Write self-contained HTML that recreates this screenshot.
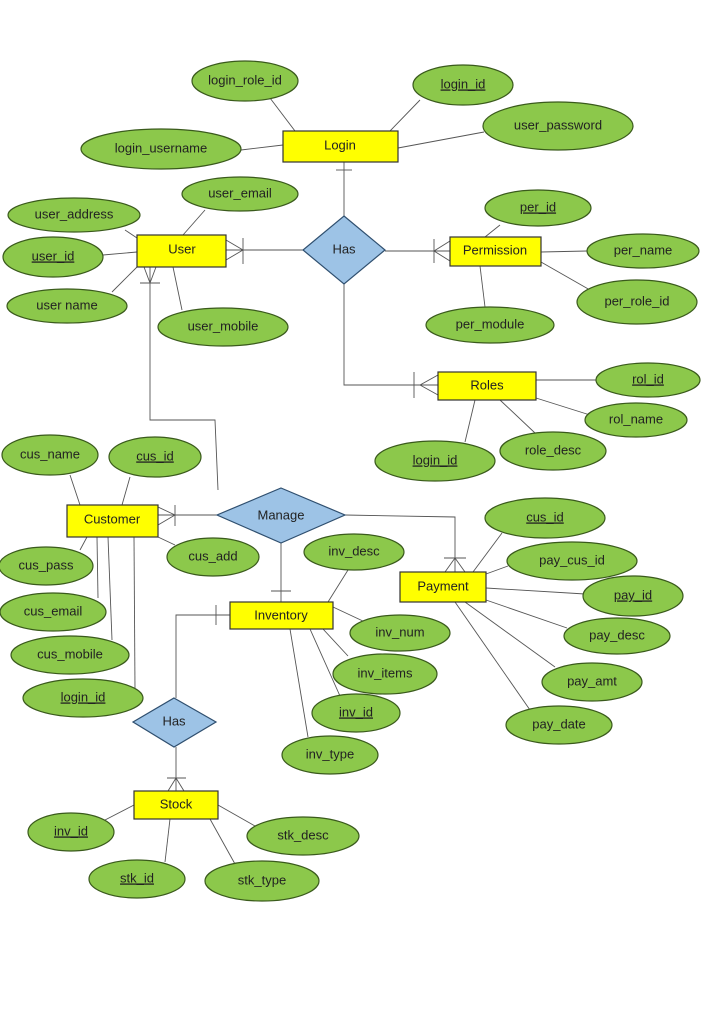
<!DOCTYPE html>
<html><head><meta charset="utf-8"><style>
html,body{margin:0;padding:0;background:#fff;}
svg{display:block;}
text{font-family:"Liberation Sans",sans-serif;font-size:13px;fill:#222;text-anchor:middle;dominant-baseline:middle;}
.e{fill:#8cc84b;stroke:#3a5a1c;stroke-width:1.2;}
.r{fill:#ffff00;stroke:#333;stroke-width:1.2;}
.d{fill:#9dc3e6;stroke:#2f4f6f;stroke-width:1.2;}
.l{stroke:#555;stroke-width:0.9;fill:none;}
</style></head><body>
<svg width="714" height="1024" viewBox="0 0 714 1024" xmlns="http://www.w3.org/2000/svg">
<!-- attribute lines -->
<g class="l">
<line x1="270" y1="98" x2="295" y2="131"/>
<line x1="420" y1="100" x2="390" y2="131"/>
<line x1="484" y1="132" x2="398" y2="148"/>
<line x1="241" y1="150" x2="283" y2="145"/>
<line x1="205" y1="210" x2="183" y2="235"/>
<line x1="125" y1="230" x2="137" y2="238"/>
<line x1="103" y1="255" x2="137" y2="252"/>
<line x1="112" y1="292" x2="137" y2="267"/>
<line x1="182" y1="310" x2="173" y2="267"/>
<line x1="500" y1="225" x2="485" y2="237"/>
<line x1="587" y1="251" x2="541" y2="252"/>
<line x1="590" y1="290" x2="541" y2="262"/>
<line x1="485" y1="307" x2="480" y2="266"/>
<line x1="596" y1="380" x2="536" y2="380"/>
<line x1="590" y1="415" x2="536" y2="398"/>
<line x1="535" y1="433" x2="500" y2="400"/>
<line x1="465" y1="442" x2="475" y2="400"/>
<line x1="70" y1="475" x2="80" y2="505"/>
<line x1="130" y1="477" x2="122" y2="505"/>
<line x1="175" y1="545" x2="158" y2="537"/>
<line x1="80" y1="550" x2="87" y2="537"/>
<line x1="98" y1="598" x2="97" y2="537"/>
<line x1="112" y1="640" x2="108" y2="537"/>
<line x1="135" y1="690" x2="134" y2="537"/>
<line x1="348" y1="570" x2="328" y2="602"/>
<line x1="365" y1="622" x2="333" y2="607"/>
<line x1="348" y1="656" x2="323" y2="629"/>
<line x1="340" y1="696" x2="310" y2="629"/>
<line x1="308" y1="737" x2="290" y2="629"/>
<line x1="502" y1="533" x2="473" y2="572"/>
<line x1="508" y1="566" x2="486" y2="574"/>
<line x1="585" y1="594" x2="486" y2="588"/>
<line x1="567" y1="628" x2="486" y2="600"/>
<line x1="555" y1="667" x2="465" y2="602"/>
<line x1="530" y1="710" x2="455" y2="602"/>
<line x1="105" y1="820" x2="134" y2="805"/>
<line x1="255" y1="826" x2="218" y2="805"/>
<line x1="165" y1="862" x2="170" y2="819"/>
<line x1="235" y1="864" x2="210" y2="819"/>
</g>
<!-- relationship lines -->
<g class="l">
<line x1="344" y1="162" x2="344" y2="216"/>
<line x1="336" y1="170" x2="352" y2="170"/>
<line x1="303" y1="250" x2="226" y2="250"/>
<line x1="243" y1="250" x2="226" y2="240"/><line x1="243" y1="250" x2="226" y2="260"/>
<line x1="243" y1="238" x2="243" y2="264"/>
<line x1="385" y1="251" x2="450" y2="251"/>
<line x1="434" y1="251" x2="450" y2="241"/><line x1="434" y1="251" x2="450" y2="261"/>
<line x1="434" y1="239" x2="434" y2="263"/>
<polyline points="344,284 344,385 438,385"/>
<line x1="420" y1="385" x2="438" y2="375"/><line x1="420" y1="385" x2="438" y2="395"/>
<line x1="414" y1="372" x2="414" y2="398"/>
<polyline points="150,267 150,420 215,420 218,490"/>
<line x1="150" y1="283" x2="144" y2="267"/><line x1="150" y1="283" x2="156" y2="267"/>
<line x1="140" y1="283" x2="160" y2="283"/>
<line x1="217" y1="515" x2="158" y2="515"/>
<line x1="175" y1="515" x2="158" y2="507"/><line x1="175" y1="515" x2="158" y2="525"/>
<line x1="175" y1="505" x2="175" y2="526"/>
<polyline points="345,515 455,517 455,572"/>
<line x1="455" y1="558" x2="445" y2="572"/><line x1="455" y1="558" x2="465" y2="572"/>
<line x1="444" y1="558" x2="466" y2="558"/>
<line x1="281" y1="543" x2="281" y2="602"/>
<line x1="271" y1="591" x2="291" y2="591"/>
<polyline points="230,615 176,615 176,698"/>
<line x1="216" y1="605" x2="216" y2="625"/>
<line x1="176" y1="747" x2="176" y2="791"/>
<line x1="176" y1="778" x2="168" y2="791"/><line x1="176" y1="778" x2="184" y2="791"/>
<line x1="167" y1="778" x2="186" y2="778"/>
</g>
<!-- diamonds -->
<polygon class="d" points="344,216 385,250 344,284 303,250"/><text x="344" y="250">Has</text>
<polygon class="d" points="281,488 345,515 281,543 217,515"/><text x="281" y="516">Manage</text>
<polygon class="d" points="174,698 216,722 174,747 133,722"/><text x="174" y="722">Has</text>
<!-- entities -->
<rect class="r" x="283" y="131" width="115" height="31"/><text x="340" y="146">Login</text>
<rect class="r" x="137" y="235" width="89" height="32"/><text x="182" y="250">User</text>
<rect class="r" x="450" y="237" width="91" height="29"/><text x="495" y="251">Permission</text>
<rect class="r" x="438" y="372" width="98" height="28"/><text x="487" y="386">Roles</text>
<rect class="r" x="67" y="505" width="91" height="32"/><text x="112" y="520">Customer</text>
<rect class="r" x="400" y="572" width="86" height="30"/><text x="443" y="587">Payment</text>
<rect class="r" x="230" y="602" width="103" height="27"/><text x="281" y="616">Inventory</text>
<rect class="r" x="134" y="791" width="84" height="28"/><text x="176" y="805">Stock</text>
<!-- attributes -->
<g>
<ellipse class="e" cx="245" cy="81" rx="53" ry="20"/><text x="245" y="81">login_role_id</text>
<ellipse class="e" cx="463" cy="85" rx="50" ry="20"/><text x="463" y="85" text-decoration="underline">login_id</text>
<ellipse class="e" cx="558" cy="126" rx="75" ry="24"/><text x="558" y="126">user_password</text>
<ellipse class="e" cx="161" cy="149" rx="80" ry="20"/><text x="161" y="149">login_username</text>
<ellipse class="e" cx="240" cy="194" rx="58" ry="17"/><text x="240" y="194">user_email</text>
<ellipse class="e" cx="74" cy="215" rx="66" ry="17"/><text x="74" y="215">user_address</text>
<ellipse class="e" cx="53" cy="257" rx="50" ry="20"/><text x="53" y="257" text-decoration="underline">user_id</text>
<ellipse class="e" cx="67" cy="306" rx="60" ry="17"/><text x="67" y="306">user  name</text>
<ellipse class="e" cx="223" cy="327" rx="65" ry="19"/><text x="223" y="327">user_mobile</text>
<ellipse class="e" cx="538" cy="208" rx="53" ry="18"/><text x="538" y="208" text-decoration="underline">per_id</text>
<ellipse class="e" cx="643" cy="251" rx="56" ry="17"/><text x="643" y="251">per_name</text>
<ellipse class="e" cx="637" cy="302" rx="60" ry="22"/><text x="637" y="302">per_role_id</text>
<ellipse class="e" cx="490" cy="325" rx="64" ry="18"/><text x="490" y="325">per_module</text>
<ellipse class="e" cx="648" cy="380" rx="52" ry="17"/><text x="648" y="380" text-decoration="underline">rol_id</text>
<ellipse class="e" cx="636" cy="420" rx="51" ry="17"/><text x="636" y="420">rol_name</text>
<ellipse class="e" cx="553" cy="451" rx="53" ry="19"/><text x="553" y="451">role_desc</text>
<ellipse class="e" cx="435" cy="461" rx="60" ry="20"/><text x="435" y="461" text-decoration="underline">login_id</text>
<ellipse class="e" cx="50" cy="455" rx="48" ry="20"/><text x="50" y="455">cus_name</text>
<ellipse class="e" cx="155" cy="457" rx="46" ry="20"/><text x="155" y="457" text-decoration="underline">cus_id</text>
<ellipse class="e" cx="213" cy="557" rx="46" ry="19"/><text x="213" y="557">cus_add</text>
<ellipse class="e" cx="46" cy="566" rx="47" ry="19"/><text x="46" y="566">cus_pass</text>
<ellipse class="e" cx="53" cy="612" rx="53" ry="19"/><text x="53" y="612">cus_email</text>
<ellipse class="e" cx="70" cy="655" rx="59" ry="19"/><text x="70" y="655">cus_mobile</text>
<ellipse class="e" cx="83" cy="698" rx="60" ry="19"/><text x="83" y="698" text-decoration="underline">login_id</text>
<ellipse class="e" cx="545" cy="518" rx="60" ry="20"/><text x="545" y="518" text-decoration="underline">cus_id</text>
<ellipse class="e" cx="572" cy="561" rx="65" ry="19"/><text x="572" y="561">pay_cus_id</text>
<ellipse class="e" cx="633" cy="596" rx="50" ry="20"/><text x="633" y="596" text-decoration="underline">pay_id</text>
<ellipse class="e" cx="617" cy="636" rx="53" ry="18"/><text x="617" y="636">pay_desc</text>
<ellipse class="e" cx="592" cy="682" rx="50" ry="19"/><text x="592" y="682">pay_amt</text>
<ellipse class="e" cx="559" cy="725" rx="53" ry="19"/><text x="559" y="725">pay_date</text>
<ellipse class="e" cx="354" cy="552" rx="50" ry="18"/><text x="354" y="552">inv_desc</text>
<ellipse class="e" cx="400" cy="633" rx="50" ry="18"/><text x="400" y="633">inv_num</text>
<ellipse class="e" cx="385" cy="674" rx="52" ry="20"/><text x="385" y="674">inv_items</text>
<ellipse class="e" cx="356" cy="713" rx="44" ry="19"/><text x="356" y="713" text-decoration="underline">inv_id</text>
<ellipse class="e" cx="330" cy="755" rx="48" ry="19"/><text x="330" y="755">inv_type</text>
<ellipse class="e" cx="71" cy="832" rx="43" ry="19"/><text x="71" y="832" text-decoration="underline">inv_id</text>
<ellipse class="e" cx="303" cy="836" rx="56" ry="19"/><text x="303" y="836">stk_desc</text>
<ellipse class="e" cx="137" cy="879" rx="48" ry="19"/><text x="137" y="879" text-decoration="underline">stk_id</text>
<ellipse class="e" cx="262" cy="881" rx="57" ry="20"/><text x="262" y="881">stk_type</text>
</g>
</svg>
</body></html>
